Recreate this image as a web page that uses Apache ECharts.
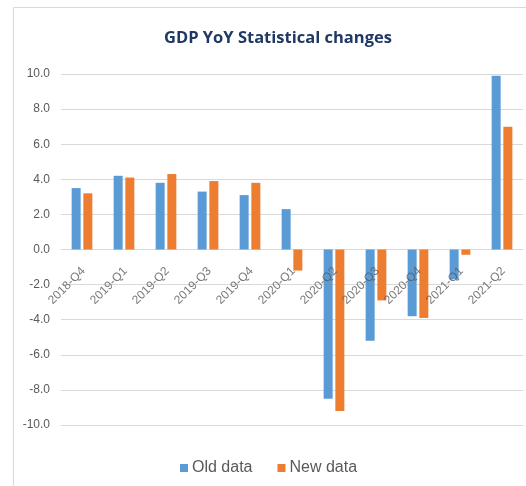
<!DOCTYPE html>
<html>
<head>
<meta charset="utf-8">
<script src="https://cdn.jsdelivr.net/npm/echarts@6/dist/echarts.min.js"></script>
<style>
  html, body { margin: 0; padding: 0; background: #fff; }
  #chart { width: 526px; height: 486px; }
</style>
</head>
<body>
<div id="chart"></div>
<script>
var quarters = ["2018-Q4", "2019-Q1", "2019-Q2", "2019-Q3", "2019-Q4", "2020-Q1",
                "2020-Q2", "2020-Q3", "2020-Q4", "2021-Q1", "2021-Q2"];
var oldData = [3.5, 4.2, 3.8, 3.3, 3.1, 2.3, -8.5, -5.2, -3.8, -1.7, 9.9];
var newData = [3.2, 4.1, 4.3, 3.9, 3.8, -1.2, -9.2, -2.9, -3.9, -0.3, 7.0];
var yTicks = { min: -10, max: 10, step: 2 };

var chart = echarts.init(document.getElementById("chart"));

var labelFont = "'Liberation Sans Narrow', sans-serif";

// category labels sit just under the zero line, like Excel does it
var zeroLabels = quarters.map(function (q) { return [q, 0]; });

var option = {
    backgroundColor: "#fff",
    animation: false,
    title: {
        text: "GDP YoY Statistical changes",
        left: 159,
        top: 25,
        textStyle: {
            color: "#1f3864",
            fontSize: 16.5,
            fontWeight: "bold",
            fontFamily: "'Open Sans', sans-serif"
        }
    },
    // frame of the chart area (left and top edges visible)
    graphic: [
        {
            type: "polyline",
            shape: { points: [[13.5, 486], [13.5, 7.5], [526, 7.5]] },
            style: { stroke: "#d9d9d9", lineWidth: 1, fill: null },
            silent: true
        }
    ],
    legend: {
        top: 455,
        left: 175,
        itemWidth: 8,
        itemHeight: 8,
        itemGap: 25,
        icon: "rect",
        textStyle: {
            color: "#595959",
            fontSize: 16,
            fontFamily: labelFont,
            padding: [0, 0, 0, -1]
        },
        data: ["Old data", "New data"]
    },
    grid: {
        left: 61,
        right: 3,
        top: 74,
        bottom: 61,
        containLabel: false
    },
    xAxis: {
        type: "category",
        data: quarters,
        axisLine: { lineStyle: { color: "#d9d9d9" } },
        axisTick: { show: false },
        axisLabel: { show: false }
    },
    yAxis: {
        type: "value",
        min: yTicks.min,
        max: yTicks.max,
        interval: yTicks.step,
        axisLine: { show: false },
        axisTick: { show: false },
        splitLine: { lineStyle: { color: "#d9d9d9" } },
        axisLabel: {
            color: "#595959",
            fontSize: 12,
            fontFamily: labelFont,
            margin: 11,
            formatter: function (v) { return v.toFixed(1); }
        }
    },
    series: [
        {
            name: "Old data",
            type: "bar",
            data: oldData,
            barWidth: 9,
            barGap: "30%",
            itemStyle: { color: "#5b9bd5" }
        },
        {
            name: "New data",
            type: "bar",
            data: newData,
            barWidth: 9,
            itemStyle: { color: "#ed7d31" }
        },
        {
            name: "labels",
            type: "scatter",
            data: zeroLabels,
            symbolSize: 0,
            silent: true,
            z: 5,
            label: {
                show: true,
                position: "inside",
                // offset is in the rotated frame
                offset: [-13, 15],
                rotate: 45,
                align: "right",
                verticalAlign: "middle",
                color: "#595959",
                fontSize: 12,
                fontFamily: labelFont,
                formatter: function (p) { return p.value[0]; }
            }
        }
    ]
};

chart.setOption(option);
</script>
</body>
</html>
